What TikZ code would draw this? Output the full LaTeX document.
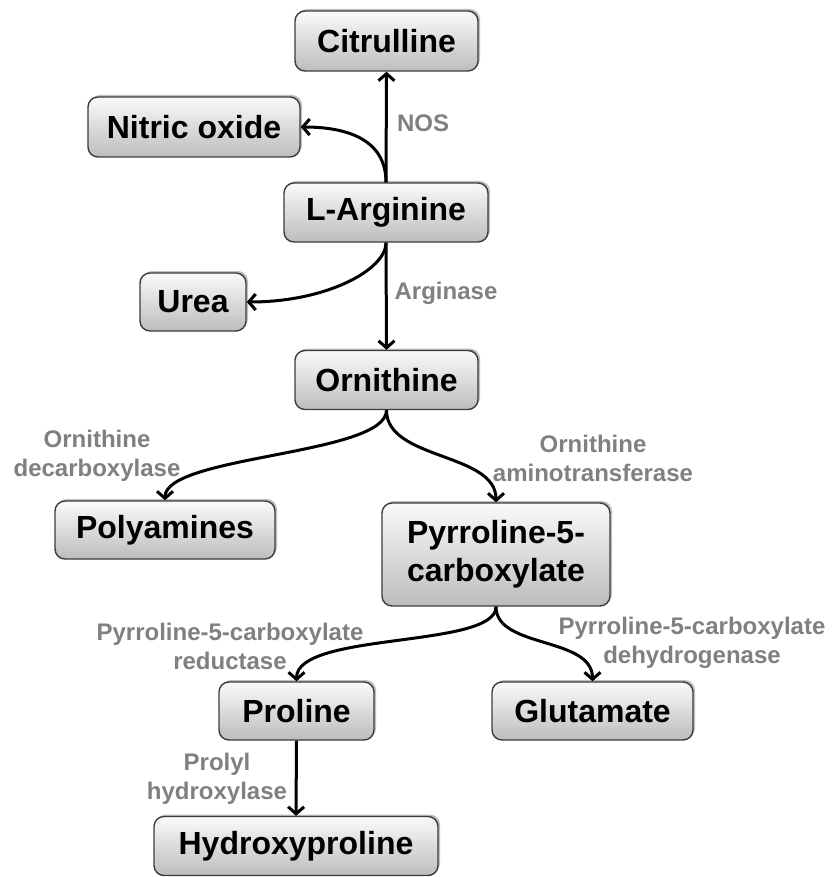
\documentclass[tikz,border=0pt]{standalone}
\usepackage{fontspec}
\setmainfont{Liberation Sans}
\usetikzlibrary{arrows.meta,shadows}
\definecolor{lblgray}{RGB}{128,128,128}
\definecolor{edgegray}{RGB}{60,60,60}
\tikzset{
  chem/.style={draw=edgegray, line width=1.4pt, rounded corners=10pt,
    top color=gray!4, bottom color=gray!52, inner sep=0pt, align=center,
    font=\fontsize{32}{38}\selectfont\bfseries,
    drop shadow={shadow xshift=2pt, shadow yshift=2pt, fill=black, opacity=0.25}},
  enz/.style={text=lblgray, align=center, inner sep=0pt,
    font=\fontsize{24}{29}\selectfont\bfseries},
  conn/.style={line width=3pt, -{Straight Barb[length=7pt,width=16pt]}}
}
\begin{document}
\begin{tikzpicture}[x=1pt,y=-1pt]
\useasboundingbox (0,0) rectangle (831,877);
% chemicals
\node[chem, minimum width=183pt, minimum height=60pt] (cit)  at (386.5,41)  {Citrulline};
\node[chem, minimum width=212pt, minimum height=60pt] (no)   at (194,127)   {Nitric oxide};
\node[chem, minimum width=204pt, minimum height=59pt] (arg)  at (386,212.5) {L-Arginine};
\node[chem, minimum width=106pt, minimum height=58pt] (urea) at (193,302)   {Urea};
\node[chem, minimum width=183pt, minimum height=59pt] (orn)  at (386.5,380) {Ornithine};
\node[chem, minimum width=220pt, minimum height=58pt] (poly) at (165,530)   {Polyamines};
\node[chem, minimum width=228pt, minimum height=103pt] (p5c) at (496,554.5) {Pyrroline-5-\\carboxylate};
\node[chem, minimum width=155pt, minimum height=58pt] (pro)  at (296.5,711) {Proline};
\node[chem, minimum width=201pt, minimum height=58pt] (glu)  at (592.5,711) {Glutamate};
\node[chem, minimum width=284pt, minimum height=59pt] (hyp)  at (296,846)   {Hydroxyproline};
% enzymes
\node[enz] (nos)  at (423,123)   {NOS};
\node[enz] (args) at (446,293)   {Arginase};
\node[enz] (odc)  at (97,456)    {Ornithine\\decarboxylase};
\node[enz] (oat)  at (593,458)   {Ornithine\\aminotransferase};
\node[enz] (p5cr) at (230,646)   {Pyrroline-5-carboxylate\\reductase};
\node[enz] (p5cd) at (692,643)   {Pyrroline-5-carboxylate\\dehydrogenase};
\node[enz] (ph)   at (217,779)   {Prolyl\\hydroxylase};
% connectors
\draw[conn] (arg.north) -- (cit.south);
\draw[conn] (arg.north) .. controls +(0,-42) and +(48,0) .. (no.east);
\draw[conn] (arg.south) -- (orn.north);
\draw[conn] (arg.south) .. controls +(0,27) and +(80,0) .. (urea.east);
\draw[conn] (orn.south) .. controls +(0,45) and +(0,-45) .. (poly.north);
\draw[conn] (orn.south) .. controls +(0,50) and +(0,-50) .. (p5c.north);
\draw[conn] (p5c.south) .. controls +(0,42) and +(0,-50) .. (pro.north);
\draw[conn] (p5c.south) .. controls +(0,42) and +(0,-45) .. (glu.north);
\draw[conn] (pro.south) -- (hyp.north);
\end{tikzpicture}
\end{document}
